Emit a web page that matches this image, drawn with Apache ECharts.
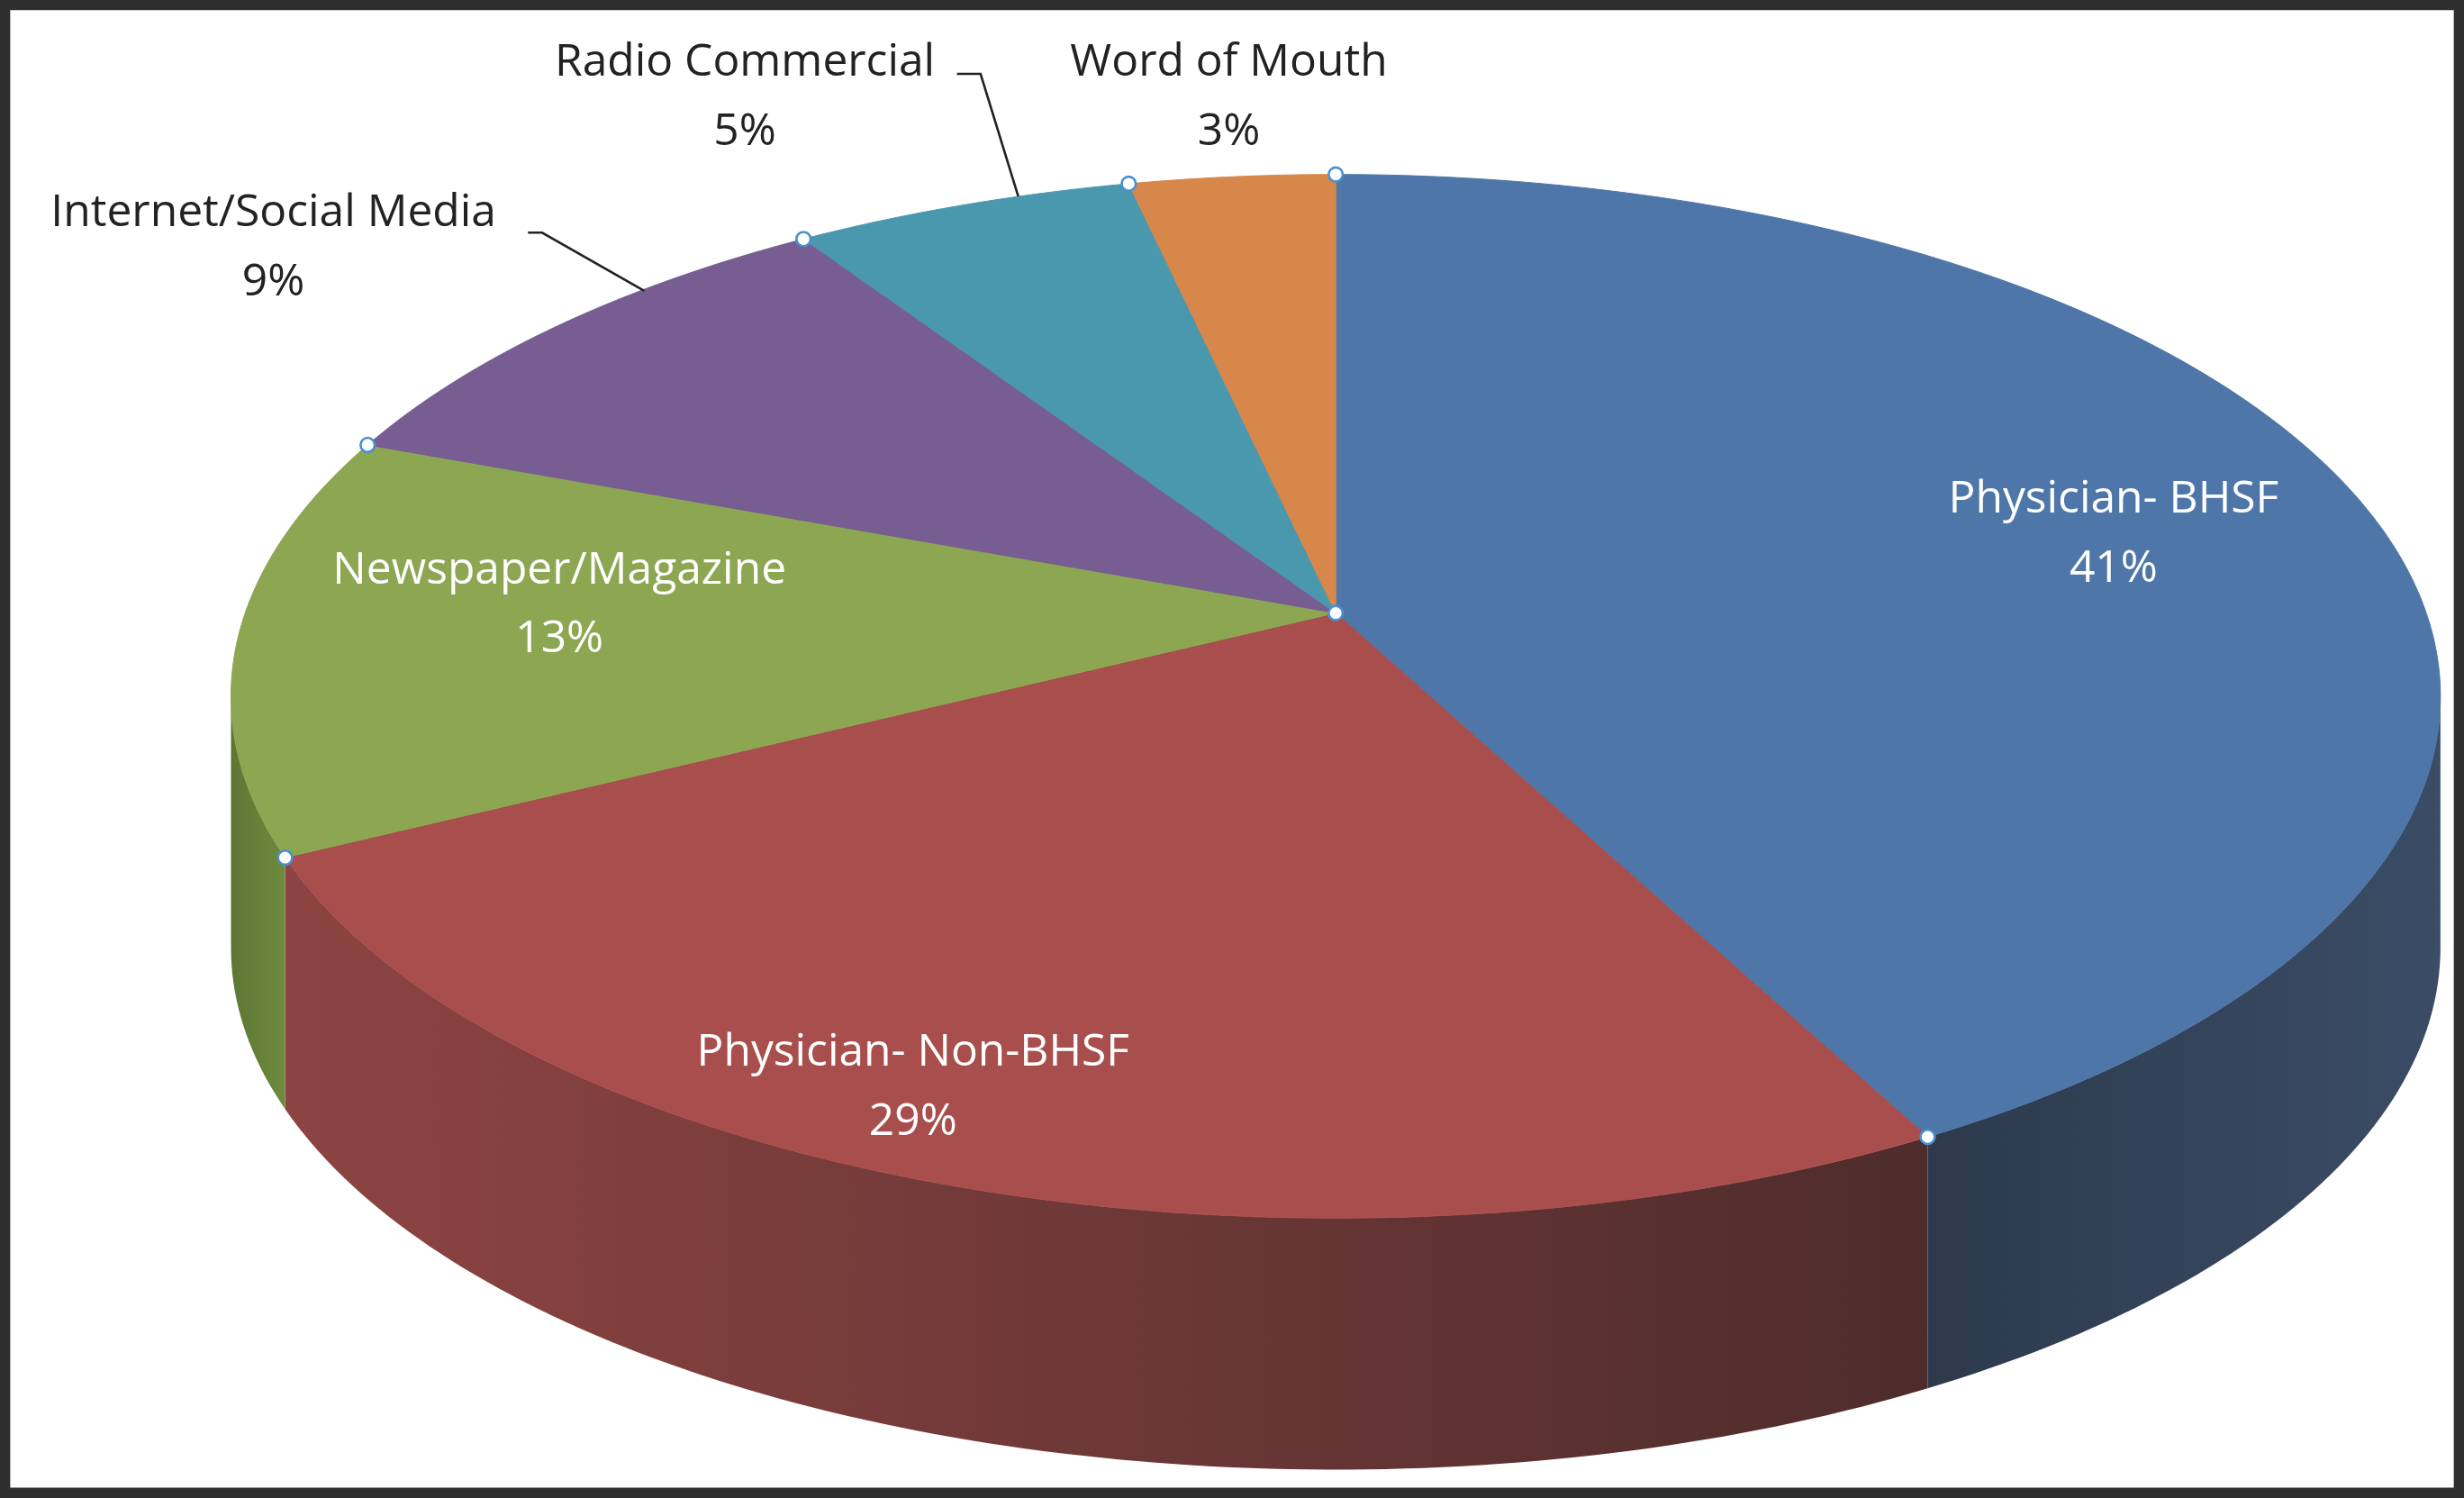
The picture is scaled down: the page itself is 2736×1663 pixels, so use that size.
<!DOCTYPE html>
<html><head><meta charset="utf-8">
<script src="https://cdn.jsdelivr.net/npm/echarts@6/dist/echarts.min.js"></script>
<style>html,body{margin:0;padding:0;background:#fff}#c{width:2736px;height:1663px}</style>
</head><body><div id="c"></div>
<script>
const categories = ['Physician- BHSF', 'Physician- Non-BHSF', 'Newspaper/Magazine', 'Internet/Social Media', 'Radio Commercial', 'Word of Mouth'];
const values = [41, 29, 13, 9, 5, 3];
const topColors = ['#4e76a8', '#a84f4d', '#8ca652', '#775d91', '#4a98ae', '#d8874a'];
const sideColors = [['#3a4c66', '#2d3a4c'], ['#8d4442', '#4e2c2c'], ['#6f8a3e', '#5e7634'], ['#5d4874', '#4d3b60'], ['#3a7a8b', '#306675'], ['#ad6b3a', '#8c5630']];

const s = 2736 / 1568;
const cx = 850 * s, cy = 443 * s, rx = 703 * s, ry = 332 * s, depth = 160 * s;
const apx = 850 * s, apy = 390 * s;
const total = values.reduce((a, b) => a + b, 0);
const rad = d => d * Math.PI / 180;
function pt(deg, dy) { return [cx + rx * Math.sin(rad(deg)), cy - ry * Math.cos(rad(deg)) + (dy || 0)]; }
function arc(a0, a1, dy) { const p = []; const n = Math.max(2, Math.ceil(a1 - a0)); for (let i = 0; i <= n; i++) p.push(pt(a0 + (a1 - a0) * i / n, dy)); return p; }

const starts = []; let acc = 0;
values.forEach(v => { starts.push(acc / total * 360); acc += v; });

const chart = echarts.init(document.getElementById('c'));

function renderItem(params, api) {
  const i = params.dataIndex;
  const a0 = starts[i], a1 = a0 + api.value(0) / total * 360;
  const children = [];
  const w0 = Math.max(a0, 90), w1 = Math.min(a1, 270);
  if (w1 > w0) {
    const top = arc(w0, w1, 0), bot = arc(w0, w1, depth).reverse();
    const dir = i === 1 ? [1, 0, 0, 0] : [0, 0, 1, 0];
    children.push({ type: 'polygon', shape: { points: top.concat(bot) }, z2: 1,
      style: { fill: new echarts.graphic.LinearGradient(dir[0], dir[1], dir[2], dir[3], [{ offset: 0, color: sideColors[i][1] }, { offset: 1, color: sideColors[i][0] }]), stroke: null } });
  }
  children.push({ type: 'polygon', shape: { points: [[apx, apy]].concat(arc(a0, a1, 0)) }, z2: 5,
    style: { fill: topColors[i], stroke: topColors[i], lineWidth: 1 } });
  return { type: 'group', children: children };
}

const lbl = (x, y, t, c) => ({ type: 'text', x: x * s, y: y * s, z: 20,
  style: { text: t, fill: c, font: (28.5 * s) + 'px "Open Sans", sans-serif', align: 'center', verticalAlign: 'middle', lineHeight: 44 * s } });
const dots = starts.map(a => pt(a, 0)).concat([[apx, apy]]).map(p => ({ type: 'circle', z: 30, shape: { cx: p[0], cy: p[1], r: 4.5 * s }, style: { fill: '#fff', stroke: '#4a8fcf', lineWidth: 1.5 * s } }));

chart.setOption({
  animation: false,
  backgroundColor: '#fff',
  graphic: [
    { type: 'rect', z: 0, shape: { x: 3 * s, y: 3 * s, width: 1562 * s, height: 947 * s }, style: { fill: 'none', stroke: '#2e2e2e', lineWidth: 7 * s } },
    lbl(1345, 340, 'Physician- BHSF\n41%', '#fff'),
    lbl(581, 692, 'Physician- Non-BHSF\n29%', '#fff'),
    lbl(356, 385, 'Newspaper/Magazine\n13%', '#fff'),
    lbl(174, 158, 'Internet/Social Media\n9%', '#222'),
    lbl(474, 62, 'Radio Commercial\n5%', '#222'),
    lbl(782, 62, 'Word of Mouth\n3%', '#222'),
    { type: 'polyline', z: 15, shape: { points: [[336 * s, 148 * s], [345 * s, 148 * s], [410 * s, 185 * s]] }, style: { stroke: '#222', lineWidth: 1.5 * s, fill: null } },
    { type: 'polyline', z: 15, shape: { points: [[609 * s, 47 * s], [624 * s, 47 * s], [648 * s, 125 * s]] }, style: { stroke: '#222', lineWidth: 1.5 * s, fill: null } }
  ].concat(dots),
  series: [{ type: 'custom', coordinateSystem: 'none', renderItem: renderItem,
    data: values.map((v, i) => ({ name: categories[i], value: [v] })) }]
});
</script></body></html>
